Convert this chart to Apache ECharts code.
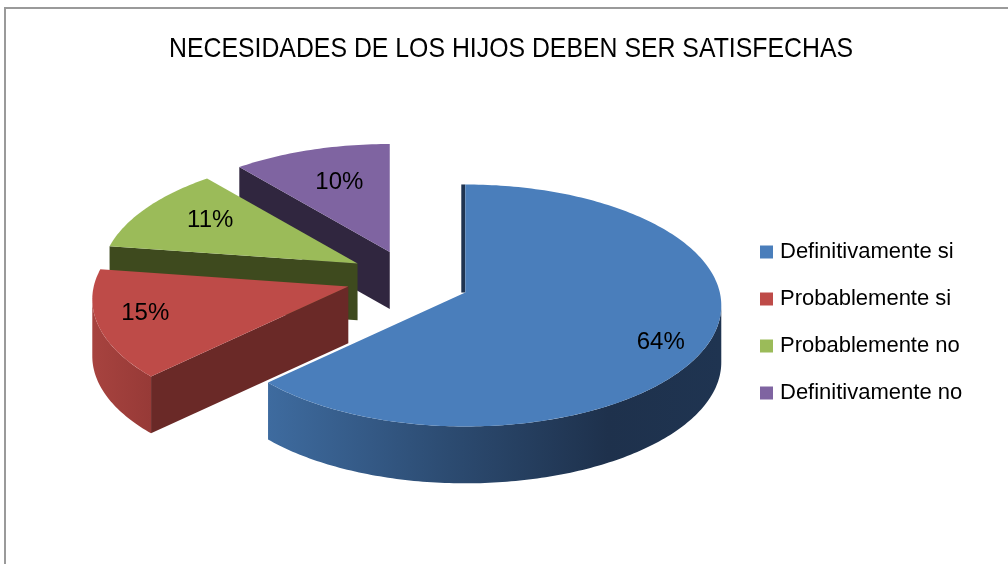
<!DOCTYPE html>
<html>
<head>
<meta charset="utf-8">
<script src="https://cdn.jsdelivr.net/npm/echarts@6/dist/echarts.min.js"></script>
<style>
  html, body { margin: 0; padding: 0; background: #fff; }
  #chart { width: 1008px; height: 564px; }
</style>
</head>
<body>
<div id="chart"></div>
<script>
// datos de la grafica
var titleText = 'NECESIDADES DE LOS HIJOS DEBEN SER SATISFECHAS';
var categories = ['Definitivamente si', 'Probablemente si', 'Probablemente no', 'Definitivamente no'];
var values = [64, 15, 11, 10];
var labels = ['64%', '15%', '11%', '10%'];

var topColors = ['#4A7EBB', '#BE4B48', '#9BBB59', '#7F64A1'];
var wallColors = ['#2C4A70', '#6A2927', '#3E4A1E', '#30263F'];
var drawOrder = [5, 4, 3, 2]; // z: las porciones de atras primero

// geometria del pastel 3d (en unidades del eje)
var EXPLODE = 0.243;
var DOFF = 0.107;   // desplazamiento de perspectiva
var DEPTH = 0.47;   // grosor

var total = values.reduce(function (a, b) { return a + b; }, 0);
var starts = [];
var acc = 0;
values.forEach(function (v) {
    starts.push(acc / total * Math.PI * 2);
    acc += v;
});

function renderSlice(params, api) {
    var i = params.seriesIndex;
    var a0 = starts[i];
    var a1 = a0 + values[i] / total * Math.PI * 2;
    var mid = (a0 + a1) / 2;
    var vx = EXPLODE * Math.sin(mid);
    var vy = EXPLODE * Math.cos(mid);

    function rim(th, drop) {
        return api.coord([vx + Math.sin(th), vy + Math.cos(th) - DOFF - drop]);
    }
    function arc(from, to, drop) {
        var pts = [];
        var n = Math.max(2, Math.ceil(Math.abs(to - from) / (Math.PI / 180)));
        for (var k = 0; k <= n; k++) {
            pts.push(rim(from + (to - from) * k / n, drop));
        }
        return pts;
    }
    var v = api.coord([vx, vy]);
    var vb = api.coord([vx, vy - DEPTH]);
    var children = [];

    // paredes radiales
    if (Math.sin(a0) < -1e-6) {
        children.push({
            type: 'polygon',
            shape: { points: [v, rim(a0, 0), rim(a0, DEPTH), vb] },
            style: { fill: wallColors[i] }
        });
    }
    if (Math.sin(a1) > 1e-6) {
        children.push({
            type: 'polygon',
            shape: { points: [v, rim(a1, 0), rim(a1, DEPTH), vb] },
            style: { fill: wallColors[i] }
        });
    }
    // borde casi de canto en las 12 (se ve apenas por la perspectiva)
    if (Math.abs(Math.sin(a0)) <= 1e-6) {
        var t = rim(a0, 0);
        children.push({
            type: 'polygon',
            shape: { points: [[v[0] - 4, v[1]], [t[0] - 4, t[1]], t, v] },
            style: { fill: '#1F3451' }
        });
    }

    // pared exterior (mitad delantera)
    var w0 = Math.max(a0, Math.PI / 2);
    var w1 = Math.min(a1, Math.PI * 1.5);
    if (w1 > w0) {
        var topArc = arc(w0, w1, 0);
        var botArc = arc(w1, w0, DEPTH);
        var fill;
        if (i === 0) {
            fill = new echarts.graphic.LinearGradient(1, 0, 0, 0, [
                { offset: 0, color: '#1F3451' },
                { offset: 0.25, color: '#1E314C' },
                { offset: 0.6, color: '#2C4B71' },
                { offset: 1, color: '#3E6B9F' }
            ]);
        } else {
            fill = new echarts.graphic.LinearGradient(0, 0, 1, 0, [
                { offset: 0, color: '#A7433F' },
                { offset: 1, color: '#973A37' }
            ]);
        }
        children.push({
            type: 'polygon',
            shape: { points: topArc.concat(botArc) },
            style: { fill: fill }
        });
    }

    // cara superior
    children.push({
        type: 'polygon',
        shape: { points: [v].concat(arc(a0, a1, 0)) },
        style: { fill: topColors[i] }
    });

    // etiqueta: mas cerca del vertice en las porciones del fondo
    var f = 0.78 - 0.15 * Math.cos(mid);
    var lp = api.coord([vx + f * Math.sin(mid), vy + f * (Math.cos(mid) - DOFF) + 0.04]);
    children.push({
        type: 'text',
        x: lp[0],
        y: lp[1],
        style: {
            text: labels[i],
            fill: '#000',
            font: '24px "Liberation Sans", Arial, sans-serif',
            align: 'center',
            verticalAlign: 'middle'
        }
    });

    return { type: 'group', children: children };
}

var chartDom = document.getElementById('chart');
var myChart = echarts.init(chartDom);

var series = categories.map(function (name, i) {
    return {
        name: name,
        type: 'custom',
        z: drawOrder[i],
        coordinateSystem: 'cartesian2d',
        clip: false,
        silent: true,
        itemStyle: { color: topColors[i] },
        encode: { x: 0, y: 1 },
        data: [[0, 0, values[i]]],
        renderItem: renderSlice
    };
});

var option = {
    animation: false,
    backgroundColor: '#fff',
    legend: {
        orient: 'vertical',
        left: 755,
        top: 236,
        itemWidth: 13,
        itemHeight: 13,
        itemGap: 25,
        icon: 'rect',
        data: categories,
        textStyle: {
            fontFamily: '"Liberation Sans", Arial, sans-serif',
            fontSize: 22,
            lineHeight: 22,
            color: '#000',
            padding: [0, 0, 0, 2]
        }
    },
    graphic: [
        { type: 'line', shape: { x1: 4, y1: 8, x2: 1008, y2: 8 }, style: { stroke: '#9a9a9a', lineWidth: 2 } },
        { type: 'line', shape: { x1: 5, y1: 8, x2: 5, y2: 564 }, style: { stroke: '#9a9a9a', lineWidth: 2 } },
        {
            type: 'text',
            x: 511,
            y: 49,
            scaleX: 0.887,
            style: {
                text: titleText,
                fill: '#000',
                font: '28px "Liberation Sans", Arial, sans-serif',
                align: 'center',
                verticalAlign: 'middle'
            }
        }
    ],
    grid: { left: 153, top: 159, width: 512, height: 242 },
    xAxis: { type: 'value', min: -1, max: 1, show: false },
    yAxis: { type: 'value', min: -1, max: 1, show: false },
    series: series
};

option && myChart.setOption(option);
</script>
</body>
</html>
